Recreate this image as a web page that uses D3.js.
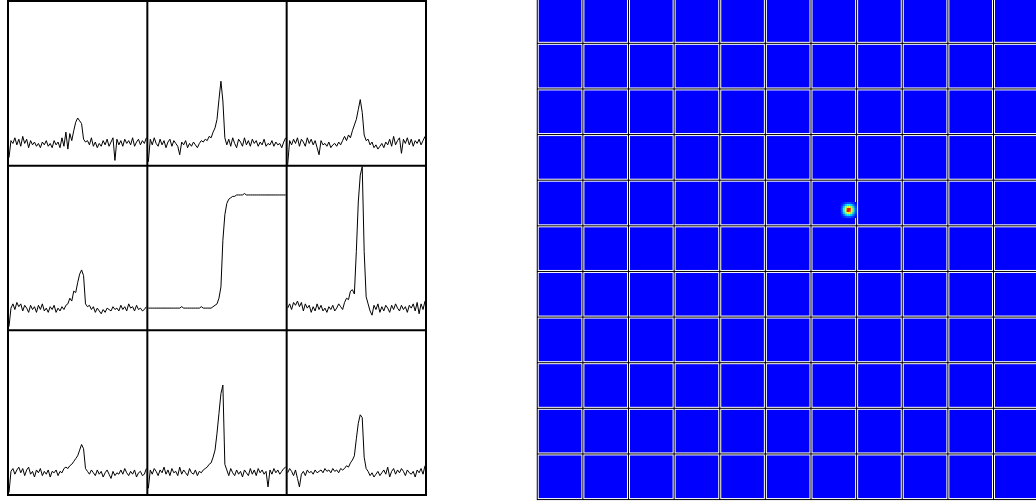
<!DOCTYPE html>
<html>
<head>
<meta charset="utf-8">
<script src="https://cdn.jsdelivr.net/npm/d3@7"></script>
<style>
  html, body { margin: 0; padding: 0; background: #ffffff; }
  svg { display: block; }
</style>
</head>
<body>
<script>
// ---------------- DATA ----------------
// Left: 3x3 grid of traces (values in arbitrary units; baseline ~0)
const traceP00 = [-10,2,0,4,-1,3,-2,5,0,3,-3,2,-1,1,-2,0,-3,1,-1,2,-2,0,-3,2,-1,1,-3,4,-2,8,-4,7,2,9,15,18,16,14,3,1,2,-1,4,-2,1,-3,0,-2,2,-1,3,-2,1,4,-12,3,-1,2,-2,3,0,2,-1,4,-2,1,3,-1,2,0,4];
const traceP01 = [-13,3,-1,4,0,-2,3,-1,2,-3,1,3,-2,2,0,-2,-8,1,-1,2,-3,0,-2,1,-1,-3,0,2,1,3,2,5,4,8,11,17,31,44,30,4,-1,3,-2,4,0,-3,3,1,-2,4,-1,2,-2,3,0,2,-2,1,-1,3,-2,0,-1,2,-2,1,-1,0,-3,1,4];
const traceP02 = [-15,2,-1,3,0,4,-2,3,1,-2,4,0,3,-1,2,-3,-8,2,-1,0,-2,1,-3,-1,0,-2,1,-1,2,5,2,6,4,9,13,17,24,31,22,6,2,3,-1,1,-3,-1,-4,-2,0,-3,1,-1,3,-2,5,-1,2,4,-7,3,0,4,-1,3,-2,2,0,3,-1,2,5];
const traceP10 = [-13,0,3,-1,4,1,3,-2,2,0,-3,2,-1,1,-3,2,-1,3,-2,0,-3,1,-1,2,-3,0,-2,1,-1,2,3,7,5,12,11,18,24,27,23,3,1,2,-1,1,-3,0,-2,-4,-1,-3,0,-1,-2,1,-1,0,-2,2,-1,1,-2,3,0,1,-2,2,-1,0,-2,-1,1];
const traceP11 = [0,0,0,0,0,0,0,0,0,0,0,0,0,0,0,0,0,1,0,0,0,0,0,0,0,0,0,1,0,0,0,0,0,1,2,3,7,15,48,66,74,77,78,79,79,80,80,80,80,81,80,80,80,80,80,80,80,80,80,80,80,80,80,80,80,80,80,80,80,80,80];
const traceP12 = [0,3,-1,4,2,5,1,4,-2,3,0,2,-3,1,-2,3,-1,2,-2,0,-3,1,-1,2,-2,0,3,1,-1,4,7,6,12,13,10,40,75,94,100,40,8,3,-2,-5,2,-1,3,-3,1,-2,2,0,-3,2,-1,3,0,-2,2,-1,1,-3,2,0,3,-2,4,-4,3,-1,5];
const traceP20 = [-14,1,3,-1,2,4,0,3,-2,2,4,-1,1,-3,2,0,3,-2,1,-1,2,-3,1,0,2,-2,1,0,3,4,3,5,6,8,10,12,16,20,17,3,1,-1,2,0,-2,2,-1,1,-3,0,2,-1,-4,1,-2,0,-1,2,-1,3,0,-2,1,-1,2,-3,0,1,-2,-1,3];
const traceP21 = [-11,2,-1,3,1,-2,2,0,4,-1,2,-2,3,0,1,-2,4,-1,2,0,-2,3,0,-1,2,-2,1,0,2,3,4,6,7,11,16,28,42,56,62,6,2,-2,3,0,-2,2,-1,1,-3,2,0,-2,3,-1,2,-2,3,0,2,-1,1,-10,2,-1,3,0,2,-1,1,3,4];
const traceP22 = [0,3,1,-2,2,-4,-10,-1,1,-2,2,0,1,-1,2,0,1,2,0,3,1,2,0,3,1,2,0,3,2,3,5,4,7,9,12,24,35,41,39,11,3,1,-2,0,-3,-1,1,-2,0,2,-1,4,-3,1,3,-1,2,0,3,1,-2,2,0,-1,1,-3,2,0,3,-1,5];
const traceDomain = [-15, 100];

// Right: 11x11 tiles, uniform background value, with one small hot spot
const tileCount = 11;
const tileFine = 23;            // data pixels per tile
const backgroundValue = 0;
const hotspotCol0 = 153;        // fine-pixel column of hotspot block
const hotspotRow0 = 103;        // fine-pixel row of hotspot block
const hotspot = [
  [0.02,0.05,0.09,0.12,0.12,0.09,0.05,0.02],
  [0.05,0.14,0.27,0.35,0.35,0.27,0.14,0.05],
  [0.09,0.27,0.52,0.66,0.66,0.52,0.27,0.09],
  [0.12,0.35,0.66,0.95,1.00,0.68,0.35,0.12],
  [0.12,0.35,0.66,1.00,0.93,0.66,0.35,0.12],
  [0.09,0.27,0.52,0.66,0.66,0.52,0.27,0.09],
  [0.05,0.14,0.27,0.35,0.35,0.27,0.14,0.05],
  [0.02,0.05,0.09,0.12,0.12,0.09,0.05,0.02]
];

// ---------------- DRAW ----------------
const W = 1036, H = 504;
const svg = d3.select("body").append("svg").attr("width", W).attr("height", H);

// Left panel grid of traces
const traces = [[traceP00, traceP01, traceP02],
                [traceP10, traceP11, traceP12],
                [traceP20, traceP21, traceP22]];
const gx = d3.scaleLinear().domain([0, 3]).range([8, 426]);
const gy = d3.scaleLinear().domain([0, 3]).range([1, 495]);

const left = svg.append("g");
traces.forEach((row, r) => {
  row.forEach((vals, c) => {
    const x = d3.scaleLinear().domain([0, vals.length - 1]).range([gx(c) + 1, gx(c + 1) - 1]);
    const y = d3.scaleLinear().domain(traceDomain).range([gy(r + 1) - 1, gy(r) + 1]);
    const line = d3.line().x((d, i) => x(i)).y(d => y(d));
    left.append("path")
      .attr("d", line(vals))
      .attr("fill", "none")
      .attr("stroke", "#000")
      .attr("stroke-width", 1)
      .attr("stroke-linejoin", "miter");
  });
});
d3.range(4).forEach(k => {
  left.append("line").attr("x1", gx(k)).attr("x2", gx(k))
    .attr("y1", gy(0) - 1).attr("y2", gy(3) + 1)
    .attr("stroke", "#000").attr("stroke-width", 2);
  left.append("line").attr("y1", gy(k)).attr("y2", gy(k))
    .attr("x1", gx(0) - 1).attr("x2", gx(3) + 1)
    .attr("stroke", "#000").attr("stroke-width", 2);
});

// Right panel: tiled image
const pitch = 45.625;
const tx = d3.scaleLinear().domain([0, tileCount]).range([537.25, 537.25 + tileCount * pitch]);
const ty = d3.scaleLinear().domain([0, tileCount]).range([-2.3, -2.3 + tileCount * pitch]);
const color = d3.scaleLinear()
  .domain([0, 1/3, 2/3, 1])
  .range(["#0000ff", "#00ffff", "#ffff00", "#ff0000"])
  .clamp(true);

const right = svg.append("g");
right.append("rect")
  .attr("x", tx(0) - 0.5).attr("y", ty(0) - 0.5)
  .attr("width", tx(tileCount) - tx(0) + 1).attr("height", ty(tileCount) - ty(0) + 1)
  .attr("fill", "#000");
const cells = [];
d3.range(tileCount).forEach(r => d3.range(tileCount).forEach(c => cells.push({r, c})));
right.selectAll("rect.tileW").data(cells).join("rect")
  .attr("class", "tileW")
  .attr("x", d => tx(d.c) + 0.5).attr("y", d => ty(d.r) + 0.5)
  .attr("width", d => tx(d.c + 1) - tx(d.c) - 1).attr("height", d => ty(d.r + 1) - ty(d.r) - 1)
  .attr("fill", "#fff");
right.selectAll("rect.tileB").data(cells).join("rect")
  .attr("class", "tileB")
  .attr("x", d => tx(d.c) + 1.5).attr("y", d => ty(d.r) + 1.5)
  .attr("width", d => tx(d.c + 1) - tx(d.c) - 3).attr("height", d => ty(d.r + 1) - ty(d.r) - 3)
  .attr("fill", color(backgroundValue));

// hotspot pixels
const fx = d3.scaleLinear().domain([0, tileCount * tileFine]).range(tx.range());
const fy = d3.scaleLinear().domain([0, tileCount * tileFine]).range(ty.range());
const hp = [];
hotspot.forEach((row, i) => row.forEach((v, j) => hp.push({i, j, v})));
right.selectAll("rect.hot").data(hp).join("rect")
  .attr("class", "hot")
  .attr("x", d => fx(hotspotCol0 + d.j))
  .attr("y", d => fy(hotspotRow0 + d.i))
  .attr("width", d => fx(hotspotCol0 + d.j + 1) - fx(hotspotCol0 + d.j) + 0.2)
  .attr("height", d => fy(hotspotRow0 + d.i + 1) - fy(hotspotRow0 + d.i) + 0.2)
  .attr("fill", d => color(d.v));
</script>
</body>
</html>
